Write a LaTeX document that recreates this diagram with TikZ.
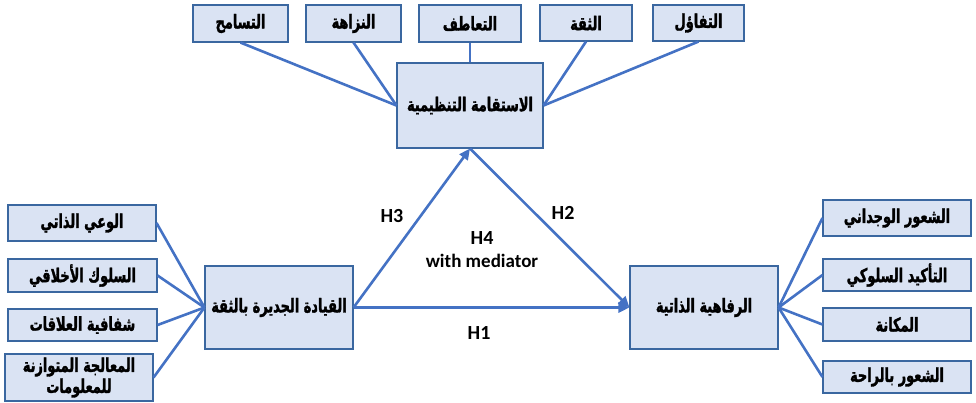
\documentclass[tikz,border=0pt]{standalone}
\usepackage{fontspec}
\usetikzlibrary{arrows.meta}
\TeXXeTstate=1
\newfontfamily\arabicfont[Script=Arabic, FakeStretch=0.68, FakeBold=1.6]{DejaVu Sans}
\newfontfamily\labelfont{Carlito}
\definecolor{boxfill}{HTML}{DAE3F3}
\definecolor{boxline}{HTML}{3A67A0}
\definecolor{linkblue}{HTML}{4472C4}
\newcommand{\ar}[1]{\beginR #1\endR}
\begin{document}
\begin{tikzpicture}[x=1pt,y=-1pt,
  concept/.style={draw=boxline, line width=1.1pt, fill=boxfill, rectangle,
    inner sep=1pt, align=center, font=\arabicfont\bfseries\fontsize{19}{21}\selectfont},
  link/.style={draw=linkblue, line width=2.6pt},
  arrowlink/.style={link, -{Triangle[length=11pt,width=10pt]}},
  hyp/.style={font=\labelfont\bfseries\fontsize{20}{24}\selectfont, inner sep=0pt}]
\useasboundingbox (0,0) rectangle (976,402);

% dimensions of the mediator
\node[concept, minimum width=95pt, minimum height=37pt] (tA) at (240.5,23.5) {\ar{التسامح}};
\node[concept, minimum width=95pt, minimum height=37pt] (tB) at (353.5,23.5) {\ar{النزاهة}};
\node[concept, minimum width=102pt, minimum height=37pt] (tC) at (470,23.5) {\ar{التعاطف}};
\node[concept, minimum width=92pt, minimum height=36pt] (tD) at (586,23) {\ar{الثقة}};
\node[concept, minimum width=91pt, minimum height=36pt] (tE) at (698.5,23) {\ar{التفاؤل}};

% the three constructs
\node[concept, minimum width=146pt, minimum height=85pt] (mid) at (470,105.5) {\ar{الاستقامة التنظيمية}};
\node[concept, minimum width=148pt, minimum height=83pt] (lead) at (279,307.5) {\ar{القيادة الجديرة بالثقة}};
\node[concept, minimum width=148pt, minimum height=83pt] (well) at (704,307.5) {\ar{الرفاهية الذاتية}};

% dimensions of leadership
\node[concept, minimum width=148pt, minimum height=36pt] (L1) at (82,223) {\ar{الوعي الذاتي}};
\node[concept, minimum width=149pt, minimum height=33pt] (L2) at (82.5,275.5) {\ar{السلوك الأخلاقي}};
\node[concept, minimum width=149pt, minimum height=32pt] (L3) at (82.5,325) {\ar{شفافية العلاقات}};
\node[concept, minimum width=148pt, minimum height=47pt, inner sep=0pt] (L4) at (79,377.5) {\ar{المعالجة المتوازنة}\\[0pt]\ar{للمعلومات}};

% dimensions of well-being
\node[concept, minimum width=148pt, minimum height=36pt] (R1) at (897,218) {\ar{الشعور الوجداني}};
\node[concept, minimum width=148pt, minimum height=32pt] (R2) at (897,275) {\ar{التأكيد السلوكي}};
\node[concept, minimum width=148pt, minimum height=33pt] (R3) at (897,324.5) {\ar{المكانة}};
\node[concept, minimum width=148pt, minimum height=32pt] (R4) at (897,377) {\ar{الشعور بالراحة}};

% dimension links
\draw[link] (tA.south) -- (mid.west);
\draw[link] (tB.south) -- (mid.west);
\draw[link] (tC.south) -- (mid.north);
\draw[link] (tD.south) -- (mid.east);
\draw[link] (tE.south) -- (mid.east);
\foreach \n in {L1,L2,L3,L4} \draw[link] (\n.east) -- (lead.west);
\foreach \n in {R1,R2,R3,R4} \draw[link] (well.east) -- (\n.west);

% hypotheses
\draw[arrowlink] (lead.east) -- (well.west);
\draw[arrowlink] (lead.east) -- (mid.south);
\draw[arrowlink] (mid.south) -- (well.west);

\node[hyp] (h3) at (392,216) {H3};
\node[hyp] (h2) at (563,213) {H2};
\node[hyp] (h4) at (482,238) {H4};
\node[hyp, font=\labelfont\bfseries\fontsize{19}{22}\selectfont] (h4m) at (482,261) {with mediator};
\node[hyp] (h1) at (479,333) {H1};
\end{tikzpicture}
\end{document}
